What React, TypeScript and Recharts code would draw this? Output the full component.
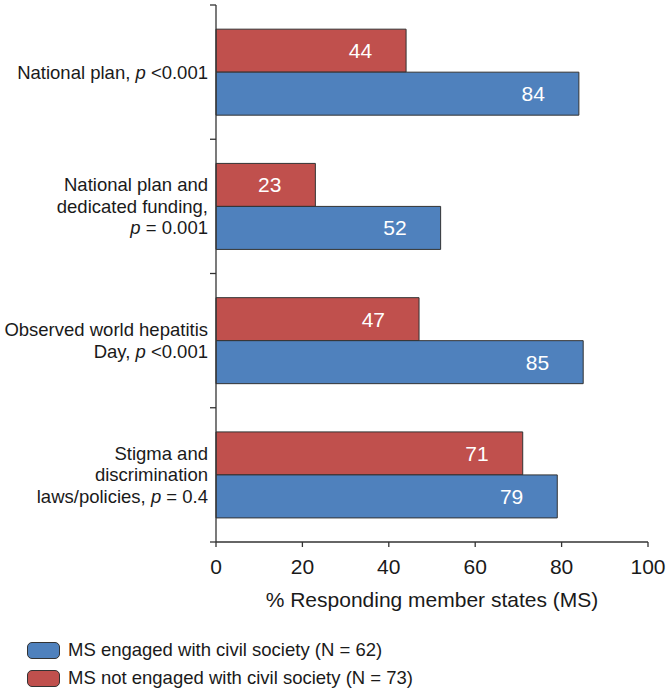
import { BarChart, Bar, XAxis, YAxis, LabelList } from 'recharts';

const categories = [
  'National plan',
  'National plan and dedicated funding',
  'Observed world hepatitis Day',
  'Stigma and discrimination laws/policies',
];

// tick label lines, {p} marks the italic p
const categoryLines = [
  ['National plan, {p} <0.001'],
  ['National plan and', 'dedicated funding,', '{p} = 0.001'],
  ['Observed world hepatitis', 'Day, {p} <0.001'],
  ['Stigma and', 'discrimination', 'laws/policies, {p} = 0.4'],
];

const notEngaged = [44, 23, 47, 71];
const engaged = [84, 52, 85, 79];

const xTicks = [0, 20, 40, 60, 80, 100];

const seriesNames = [
  'MS engaged with civil society (N = 62)',
  'MS not engaged with civil society (N = 73)',
];

const BLUE = '#4F81BD';
const RED = '#C0504D';
const INK = '#1a1a1a';
const EDGE = '#333333';
const FONT = '"Liberation Sans", Arial, Helvetica, sans-serif';

const data = categories.map((name, i) => ({
  name,
  engaged: engaged[i],
  notEngaged: notEngaged[i],
}));

const renderLine = (line: string) => {
  const parts = line.split('{p}');
  return parts.map((part, i) => (
    <tspan key={i}>
      {i > 0 && <tspan fontStyle="italic">p</tspan>}
      {part}
    </tspan>
  ));
};

// label lines plus the little ticks that sit on the category boundaries
const CategoryTick = (props: any) => {
  const { y, payload, index, height, visibleTicksCount } = props;
  const lines = categoryLines[index] ?? [String(payload.value)];
  const band = height / visibleTicksCount;
  const lh = 21.5;
  const first = y - ((lines.length - 1) * lh) / 2 + 6.6;
  const edges = [y - band / 2];
  if (index === visibleTicksCount - 1) edges.push(y + band / 2);
  return (
    <g>
      {edges.map((ey, i) => (
        <line key={i} x1={210} x2={216} y1={ey} y2={ey} stroke={EDGE} strokeWidth={1.3} />
      ))}
      <text x={208} y={first} textAnchor="end" fontSize={18.5} fontFamily={FONT} fill={INK}>
        {lines.map((line, i) => (
          <tspan key={i} x={208} y={first + i * lh}>
            {renderLine(line)}
          </tspan>
        ))}
      </text>
    </g>
  );
};

export default function App() {
  return (
    <div style={{ position: 'absolute', left: 0, top: 0, width: 669, height: 689, background: '#fff' }}>
      <BarChart
        width={669}
        height={689}
        data={data}
        layout="vertical"
        margin={{ top: 5, right: 21, bottom: 72, left: 0 }}
        barCategoryGap="18%"
        barGap={0}
      >
        <YAxis
          type="category"
          dataKey="name"
          width={216}
          axisLine={{ stroke: EDGE, strokeWidth: 1.3 }}
          tickLine={false}
          interval={0}
          tick={<CategoryTick />}
        />
        <XAxis
          type="number"
          domain={[0, 100]}
          ticks={xTicks}
          interval={0}
          height={75}
          tickSize={5}
          tickMargin={12}
          axisLine={{ stroke: EDGE, strokeWidth: 1.3 }}
          tickLine={{ stroke: EDGE, strokeWidth: 1.3 }}
          tick={{ fill: INK, fontSize: 21, fontFamily: FONT }}
          label={{
            value: '% Responding member states (MS)',
            position: 'insideBottom',
            offset: 10,
            fill: INK,
            fontSize: 21,
            fontFamily: FONT,
          }}
        />
        <Bar dataKey="notEngaged" fill={RED} stroke={EDGE} strokeWidth={1} isAnimationActive={false}>
          <LabelList dataKey="notEngaged" position="insideRight" offset={34} fill="#fff" fontSize={21} fontFamily={FONT} />
        </Bar>
        <Bar dataKey="engaged" fill={BLUE} stroke={EDGE} strokeWidth={1} isAnimationActive={false}>
          <LabelList dataKey="engaged" position="insideRight" offset={34} fill="#fff" fontSize={21} fontFamily={FONT} />
        </Bar>
      </BarChart>

      {/* legend */}
      <div style={{ position: 'absolute', left: 27, top: 636, fontFamily: FONT, fontSize: 18.5, color: INK }}>
        {seriesNames.map((name, i) => (
          <div key={name} style={{ display: 'flex', alignItems: 'center', height: 28 }}>
            <span
              style={{
                display: 'inline-block',
                width: 31,
                height: 15,
                background: i === 0 ? BLUE : RED,
                border: `1.3px solid ${EDGE}`,
                borderRadius: 5,
                marginRight: 8,
              }}
            />
            <span>{name}</span>
          </div>
        ))}
      </div>
    </div>
  );
}
